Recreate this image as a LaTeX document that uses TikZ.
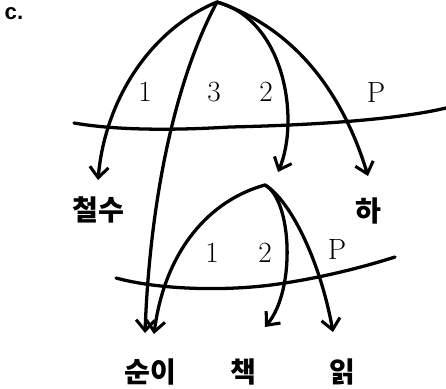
\documentclass[tikz,border=0pt]{standalone}
\usepackage{fontspec}
\newfontfamily\kr{Noto Sans CJK KR}
\newfontfamily\hd{Liberation Sans}
\usetikzlibrary{arrows.meta}

\begin{document}
\begin{tikzpicture}[x=0.03cm,y=-0.03cm,
  arc/.style={line width=2.8pt,line cap=round,-{Straight Barb[length=3.2mm,width=5.6mm,line width=2.6pt]}},
  rule/.style={line width=2.8pt,line cap=round},
  num/.style={font=\fontsize{25}{28}\selectfont},
  word/.style={font=\kr\bfseries\fontsize{24}{28}\selectfont}]
			\useasboundingbox (0,0) rectangle (446,388);
			
			% Labels
			\node[font=\hd\bfseries\fontsize{19}{22}\selectfont] (tag) at (14,14) {c.};
			\node[num] (one) at (145,92) {1};
			\node[num] (three) at (214,92) {3};
			\node[num] (two) at (266,92) {2};
			\node[num] (pred) at (376,92) {P};
			\node[num] (oneb) at (212,253) {1};
			\node[num] (twob) at (265,253) {2};
			\node[num] (predb) at (337,249) {P};
			\node[word] (chulsu) at (98,210) {철수};
			\node[word] (ha) at (368,211) {하};
			\node[word] (suni) at (150,372) {순이};
			\node[word] (chaek) at (243,372) {책};
			\node[word] (ilk) at (342,372) {읽};
			
			% Heads and tips
			\coordinate (top) at (217,2);
			\coordinate (topb) at (265,185);
			\coordinate (tipA) at (98,180);
			\coordinate (tipB) at (145,333);
			\coordinate (tipC) at (278,172);
			\coordinate (tipD) at (368,176);
			\coordinate (tipE) at (154,334);
			\coordinate (tipF) at (265,327);
			\coordinate (tipG) at (333,332);
			
			% Levels
			\draw[rule] (74,123) .. controls (120,131) and (180,130) .. (230,127)
			  .. controls (320,125) and (400,119) .. (446,108);
			\draw[rule] (116,278) .. controls (160,290) and (230,292) .. (285,283)
			  .. controls (330,276) and (370,265) .. (395,257);
			
			% Arcs
			\draw[arc] (top) .. controls (150,30) and (105,100) .. (tipA);
			\draw[arc] (top) .. controls (175,80) and (150,200) .. (tipB);
			\draw[arc] (top) .. controls (285,20) and (300,120) .. (tipC);
			\draw[arc] (top) .. controls (300,30) and (345,100) .. (tipD);
			\draw[arc] (topb) .. controls (210,200) and (165,250) .. (tipE);
			\draw[arc] (topb) .. controls (292,200) and (296,290) .. (tipF);
			\draw[arc] (topb) .. controls (290,200) and (320,260) .. (tipG);
			
		\end{tikzpicture}
\end{document}
